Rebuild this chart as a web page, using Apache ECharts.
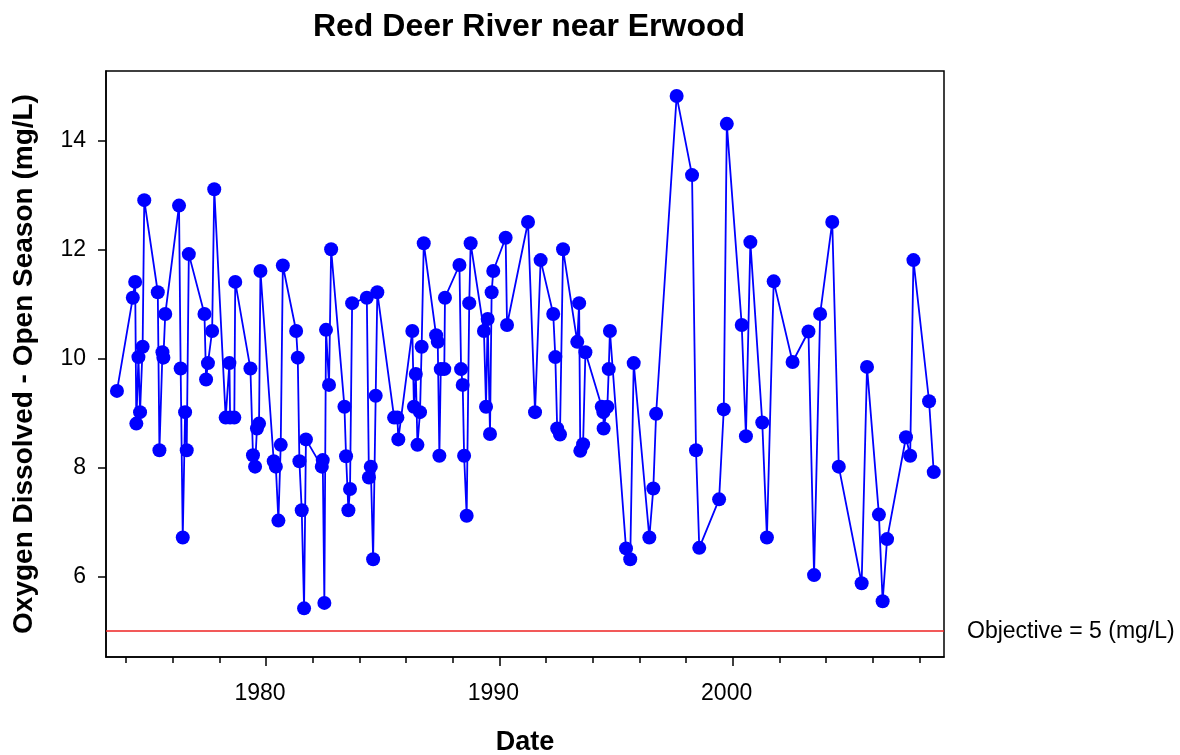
<!DOCTYPE html>
<html>
<head>
<meta charset="utf-8">
<script src="https://cdn.jsdelivr.net/npm/echarts@6/dist/echarts.min.js"></script>
<style>
html,body{margin:0;padding:0;background:#fff;}
#chart{width:1180px;height:755px;}
</style>
</head>
<body>
<div id="chart"></div>
<script>
// Sample dates (decimal years) and dissolved oxygen (mg/L), open season
var dates = [
  1973.61, 1974.29, 1974.39, 1974.44, 1974.53, 1974.60, 1974.71, 1974.78,
  1975.36, 1975.43, 1975.56, 1975.60, 1975.68,
  1976.27, 1976.34, 1976.43, 1976.53, 1976.60, 1976.69,
  1977.36, 1977.43, 1977.51, 1977.69, 1977.78,
  1978.27, 1978.43, 1978.46, 1978.64, 1978.68,
  1979.33, 1979.44, 1979.53, 1979.61, 1979.70, 1979.76,
  1980.33, 1980.42, 1980.53, 1980.63, 1980.72,
  1981.29, 1981.36, 1981.43, 1981.53, 1981.63, 1981.71,
  1982.39, 1982.43, 1982.50, 1982.57, 1982.70, 1982.79,
  1983.36, 1983.43, 1983.53, 1983.60, 1983.69,
  1984.32, 1984.41, 1984.49, 1984.59, 1984.70, 1984.77,
  1985.49, 1985.63, 1985.67,
  1986.27, 1986.34, 1986.42, 1986.49, 1986.60, 1986.67, 1986.76,
  1987.29, 1987.36, 1987.43, 1987.49, 1987.64, 1987.67,
  1988.29, 1988.36, 1988.43, 1988.49, 1988.60, 1988.71, 1988.77,
  1989.34, 1989.43, 1989.50, 1989.60, 1989.67, 1989.74,
  1990.27, 1990.33,
  1991.23, 1991.53, 1991.77,
  1992.31, 1992.40, 1992.48, 1992.60, 1992.73,
  1993.34, 1993.42, 1993.47, 1993.59, 1993.69,
  1994.39, 1994.46, 1994.47, 1994.63, 1994.69, 1994.74,
  1995.43, 1995.61, 1995.76,
  1996.43, 1996.60, 1996.72,
  1997.60,
  1998.26, 1998.43, 1998.57,
  1999.42, 1999.62, 1999.75,
  2000.39, 2000.57, 2000.76,
  2001.27, 2001.47, 2001.76,
  2002.57,
  2003.25, 2003.49, 2003.75,
  2004.27, 2004.55,
  2005.53, 2005.76,
  2006.27, 2006.43, 2006.62,
  2007.43, 2007.61, 2007.75,
  2008.42, 2008.62
];
var oxygen = [
  9.41, 11.12, 11.41, 8.81, 10.03, 9.02, 10.22, 12.91,
  11.22, 8.32, 10.12, 10.02, 10.82,
  12.81, 9.82, 6.72, 9.02, 8.32, 11.92,
  10.82, 9.62, 9.92, 10.51, 13.11,
  8.92, 9.92, 8.92, 8.92, 11.41,
  9.82, 8.23, 8.02, 8.72, 8.81, 11.61,
  8.12, 8.02, 7.03, 8.42, 11.71,
  10.51, 10.02, 8.12, 7.22, 5.42, 8.52,
  8.02, 8.14, 5.52, 10.53, 9.52, 12.01,
  9.12, 8.21, 7.22, 7.61, 11.02,
  11.12, 7.82, 8.02, 6.32, 9.32, 11.22,
  8.92, 8.92, 8.52,
  10.51, 9.12, 9.72, 8.42, 9.02, 10.22, 12.12,
  10.43, 10.31, 8.22, 9.81, 9.81, 11.12,
  11.72, 9.81, 9.52, 8.22, 7.12, 11.02, 12.12,
  10.51, 9.12, 10.73, 8.62, 11.22, 11.61,
  12.22, 10.62,
  12.51, 9.02, 11.81,
  10.82, 10.03, 8.72, 8.61, 12.01,
  10.31, 11.02, 8.31, 8.43, 10.12,
  9.12, 9.02, 8.72, 9.12, 9.81, 10.51,
  6.52, 6.32, 9.92,
  6.72, 7.62, 8.99,
  14.82,
  13.37, 8.32, 6.53,
  7.42, 9.07, 14.31,
  10.62, 8.58, 12.14,
  8.83, 6.72, 11.42,
  9.94,
  10.50, 6.03, 10.82,
  12.51, 8.02,
  5.88, 9.85,
  7.14, 5.55, 6.69,
  8.56, 8.22, 11.81,
  9.22, 7.92
];
var objective = 5;
var xMinorTicks = [1974, 1976, 1978, 1980, 1982, 1984, 1986, 1988, 1990, 1992, 1994, 1996, 1998, 2000, 2002, 2004, 2006, 2008];
var xMajorTicks = [1980, 1990, 2000];
var yTicks = [6, 8, 10, 12, 14];

var FONT = '"Liberation Sans", Arial, Helvetica, sans-serif';
var pts = dates.map(function (d, i) { return [d, oxygen[i]]; });

var chart = echarts.init(document.getElementById('chart'), null, { renderer: 'canvas' });
var xMin = 1973.14, xMax = 2009.06;
chart.setOption({
  animation: false,
  backgroundColor: '#ffffff',
  title: {
    text: 'Red Deer River near Erwood',
    left: 524,
    top: 6,
    textAlign: 'center',
    textStyle: { fontFamily: FONT, fontSize: 32, fontWeight: 'bold', color: '#000' }
  },
  grid: {
    left: 106, right: 236, top: 71, bottom: 98,
    containLabel: false, outerBoundsMode: 'none',
    show: true, borderColor: '#000', borderWidth: 1.5, backgroundColor: 'transparent'
  },
  xAxis: [
    {
      type: 'value', min: xMin, max: xMax, position: 'bottom',
      axisLine: { show: true, onZero: false, lineStyle: { color: '#000', width: 1.5 } },
      axisTick: { show: true, customValues: xMinorTicks, length: 6, lineStyle: { color: '#000', width: 1.5 } },
      axisLabel: { show: false },
      splitLine: { show: false }
    },
    {
      type: 'value', min: xMin, max: xMax, position: 'bottom',
      name: 'Date', nameLocation: 'middle', nameGap: 72,
      nameTextStyle: { fontFamily: FONT, fontSize: 27, fontWeight: 'bold', color: '#000' },
      axisLine: { show: false, onZero: false },
      axisTick: { show: true, customValues: xMajorTicks, length: 9, lineStyle: { color: '#000', width: 1.5 } },
      axisLabel: {
        show: true, customValues: xMajorTicks, margin: 25,
        fontFamily: FONT, fontSize: 23, color: '#000',
        padding: [0, 12, 0, 0],
        formatter: function (v) { return String(Math.round(v)); }
      },
      splitLine: { show: false }
    }
  ],
  yAxis: {
    type: 'value', min: 4.527, max: 15.28,
    name: 'Oxygen Dissolved - Open Season (mg/L)', nameLocation: 'middle', nameGap: 68, nameRotate: 90,
    nameTextStyle: { fontFamily: FONT, fontSize: 28, fontWeight: 'bold', color: '#000' },
    axisLine: { show: true, onZero: false, lineStyle: { color: '#000', width: 1.5 } },
    axisTick: { show: true, customValues: yTicks, length: 8, lineStyle: { color: '#000', width: 1.5 } },
    axisLabel: { show: true, customValues: yTicks, margin: 20, fontFamily: FONT, fontSize: 23, color: '#000' },
    splitLine: { show: false }
  },
  series: [{
    type: 'line',
    xAxisIndex: 0,
    data: pts,
    symbol: 'circle',
    symbolSize: 14,
    showAllSymbol: true,
    lineStyle: { color: '#0000ff', width: 1.8 },
    itemStyle: { color: '#0000ff', borderWidth: 0 },
    markLine: {
      silent: true,
      symbol: ['none', 'none'],
      lineStyle: { color: '#ee2222', width: 1.6, type: 'solid' },
      label: {
        show: true, position: 'end', distance: 23,
        formatter: 'Objective = ' + objective + ' (mg/L)',
        fontFamily: FONT, fontSize: 23, color: '#000'
      },
      data: [{ yAxis: objective }]
    }
  }]
});
</script>
</body>
</html>
